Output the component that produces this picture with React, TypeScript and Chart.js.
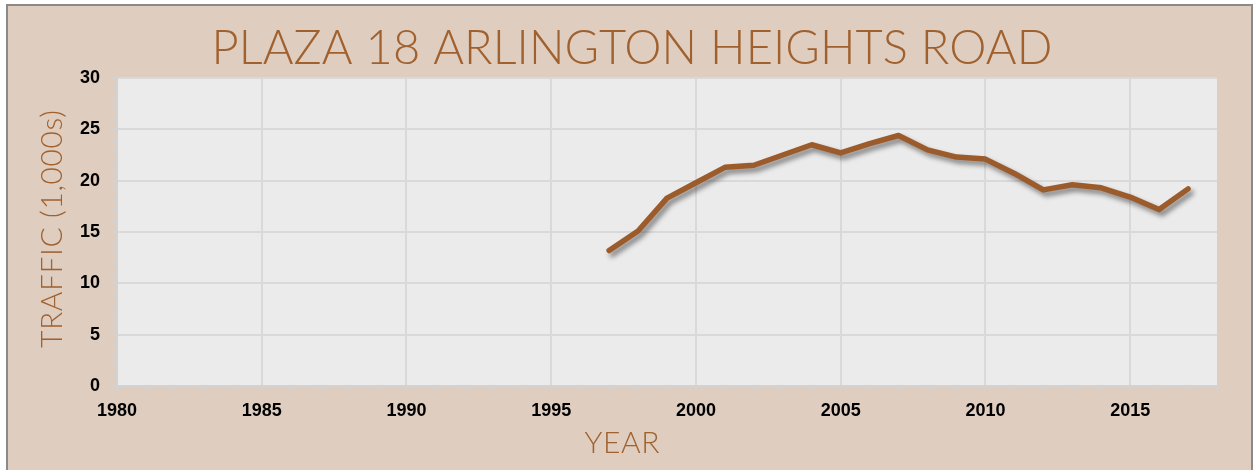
import React, { useEffect, useRef } from "react";
import { Chart, registerables } from "chart.js";

Chart.register(...registerables);

const chartTitle = "PLAZA 18 ARLINGTON HEIGHTS ROAD";
const xAxisTitle = "YEAR";
const yAxisTitle = "TRAFFIC (1,000s)";
const years = [1997, 1998, 1999, 2000, 2001, 2002, 2003, 2004, 2005, 2006, 2007, 2008, 2009, 2010, 2011, 2012, 2013, 2014, 2015, 2016, 2017];
const traffic = [13.2, 15.1, 18.3, 19.8, 21.3, 21.5, 22.5, 23.5, 22.7, 23.6, 24.4, 23.0, 22.3, 22.1, 20.7, 19.1, 19.6, 19.3, 18.4, 17.2, 19.2];
const xMin = 1980;
const xMax = 2018;
const yMin = 0;
const yMax = 30;

const W = 1254;
const H = 470;
const BG = "#dfcdbf";
const PLOT_BG = "#ebebeb";
const GRID = "#d9d9d9";
const AXIS = "#d2d2d2";
const BROWN = "#9c5b2b";
const TITLE_COLOR = "#a0612f";
const TITLE_FONT = "Lato, 'Open Sans', 'DejaVu Sans', sans-serif";

function drawSpaced(ctx: CanvasRenderingContext2D, text: string, cx: number, baseline: number, targetWidth: number | null) {
  ctx.save();
  const w = ctx.measureText(text).width;
  let spacing = 0;
  if (targetWidth !== null && text.length > 1) {
    spacing = (targetWidth - w) / (text.length - 1);
  }
  (ctx as any).letterSpacing = spacing + "px";
  const total = w + spacing * (text.length - 1);
  ctx.textAlign = "left";
  ctx.textBaseline = "alphabetic";
  ctx.fillText(text, cx - total / 2, baseline);
  ctx.restore();
}

const decorPlugin = {
  id: "decor",
  beforeDraw(chart: any) {
    const ctx = chart.ctx as CanvasRenderingContext2D;
    ctx.save();
    ctx.fillStyle = "#ffffff";
    ctx.fillRect(0, 0, W, H);
    ctx.fillStyle = BG;
    ctx.fillRect(7, 5, 1245, H);
    ctx.strokeStyle = "#8a8a8a";
    ctx.lineWidth = 2;
    ctx.beginPath();
    ctx.moveTo(7, H + 5);
    ctx.lineTo(7, 5);
    ctx.lineTo(1252, 5);
    ctx.lineTo(1252, H + 5);
    ctx.stroke();
    const a = chart.chartArea;
    ctx.fillStyle = PLOT_BG;
    ctx.fillRect(a.left, a.top, a.right - a.left, a.bottom - a.top);
    ctx.restore();
  },
  beforeDatasetsDraw(chart: any) {
    const ctx = chart.ctx as CanvasRenderingContext2D;
    ctx.save();
    ctx.shadowColor = "rgba(0,0,0,0.45)";
    ctx.shadowBlur = 5;
    ctx.shadowOffsetX = 3;
    ctx.shadowOffsetY = 4;
  },
  afterDatasetsDraw(chart: any) {
    chart.ctx.restore();
  },
  afterDraw(chart: any) {
    const ctx = chart.ctx as CanvasRenderingContext2D;
    ctx.save();
    ctx.fillStyle = TITLE_COLOR;
    ctx.font = `300 47px ${TITLE_FONT}`;
    drawSpaced(ctx, chartTitle, 632, 64, 841);
    ctx.font = `300 30px ${TITLE_FONT}`;
    drawSpaced(ctx, xAxisTitle, 622, 453, 75);
    ctx.translate(62, 229);
    ctx.rotate(-Math.PI / 2);
    drawSpaced(ctx, yAxisTitle, 0, 0, 238);
    ctx.restore();
  },
};

export default function App() {
  const ref = useRef<HTMLCanvasElement | null>(null);
  useEffect(() => {
    if (!ref.current) return;
    const points = years.map((y, i) => ({ x: y, y: traffic[i] }));
    const tickFont = { family: "'Liberation Sans', Arial, sans-serif", size: 18, weight: "bold" as const };
    const chart = new Chart(ref.current, {
      type: "line",
      data: {
        datasets: [
          {
            data: points,
            borderColor: BROWN,
            borderWidth: 5.5,
            pointRadius: 0,
            tension: 0,
            borderCapStyle: "round",
            borderJoinStyle: "round",
            fill: false,
          },
        ],
      },
      options: {
        animation: false,
        responsive: false,
        devicePixelRatio: 1,
        layout: { padding: { left: 0, top: 78, right: 37, bottom: 0 } },
        plugins: { legend: { display: false }, tooltip: { enabled: false }, title: { display: false } },
        scales: {
          x: {
            type: "linear",
            min: xMin,
            max: xMax,
            afterFit: (s: any) => {
              s.height = 84;
            },
            ticks: {
              stepSize: 1,
              autoSkip: false,
              maxRotation: 0,
              padding: 9,
              color: "#000",
              font: tickFont,
              callback: (v: any) => (Number(v) % 5 === 0 ? String(v) : ""),
            },
            grid: {
              color: (c: any) => (c.tick && c.tick.value % 5 === 0 ? GRID : "rgba(0,0,0,0)"),
              lineWidth: 2,
              tickColor: AXIS,
              tickLength: 5,
              tickWidth: 2,
            },
            border: { color: AXIS, width: 2 },
          },
          y: {
            type: "linear",
            min: yMin,
            max: yMax,
            afterFit: (s: any) => {
              s.width = 117;
            },
            ticks: {
              stepSize: 1,
              autoSkip: false,
              padding: 12,
              color: "#000",
              font: tickFont,
              callback: (v: any) => (Number(v) % 5 === 0 ? String(v) : ""),
            },
            grid: {
              color: (c: any) => (c.tick && c.tick.value % 5 === 0 ? GRID : "rgba(0,0,0,0)"),
              lineWidth: 2,
              tickColor: AXIS,
              tickLength: 5,
              tickWidth: 2,
            },
            border: { color: AXIS, width: 2 },
          },
        },
      },
      plugins: [decorPlugin],
    });
    return () => chart.destroy();
  }, []);
  return (
    <div style={{ position: "absolute", left: 0, top: 0, width: W, height: H }}>
      <canvas ref={ref} width={W} height={H} style={{ display: "block" }} />
    </div>
  );
}
